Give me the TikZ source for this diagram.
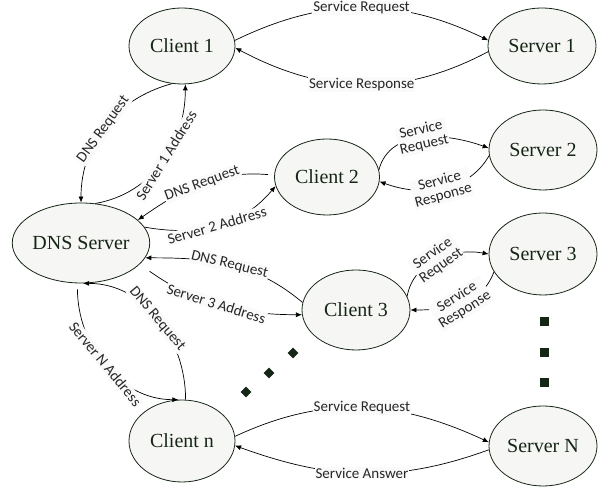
\documentclass[tikz,border=0pt]{standalone}
\usepackage{fontspec}
\setmainfont{Liberation Serif}
\newfontfamily\labfont{Carlito}
\usetikzlibrary{shapes.geometric,arrows.meta}
\definecolor{ink}{HTML}{162616}
\definecolor{efill}{HTML}{F6F6F4}
\definecolor{lfill}{HTML}{FAFAFA}
\begin{document}
\begin{tikzpicture}[x=1pt,y=1pt,
  ent/.style={ellipse, draw=ink, fill=efill, line width=0.8pt, inner sep=0pt,
    font=\fontsize{20}{24}\selectfont, text=ink},
  arr/.style={draw=black, line width=0.7pt, -{Latex[length=6pt,width=5pt]}},
  lab/.style={font=\labfont\fontsize{15}{15}\selectfont, fill=lfill, inner sep=1pt, text=black!85},
  lab2/.style={lab, align=center},
  dia/.style={diamond, fill=ink, inner sep=0pt, minimum size=11pt},
  sq/.style={rectangle, fill=ink, inner sep=0pt, minimum size=8.5pt}]
\useasboundingbox (0,0) rectangle (598,492);

\node[ent, minimum width=106pt, minimum height=76pt] (c1) at (182,446) {Client 1};
\node[ent, minimum width=108pt, minimum height=76pt] (s1) at (542,446) {Server 1};
\node[ent, minimum width=108pt, minimum height=80pt] (s2) at (543,342) {Server 2};
\node[ent, minimum width=105pt, minimum height=76pt] (c2) at (327,315) {Client 2};
\node[ent, minimum width=134pt, minimum height=80pt] (dns) at (81,249) {DNS Server};
\node[ent, minimum width=108pt, minimum height=82pt] (s3) at (543,238) {Server 3};
\node[ent, minimum width=108pt, minimum height=80pt] (c3) at (356,182) {Client 3};
\node[ent, minimum width=106pt, minimum height=82pt] (cn) at (182,51) {Client n};
\node[ent, minimum width=108pt, minimum height=80pt] (sN) at (543,46) {Server N};

% Client 1 <-> Server 1
\draw[arr] (c1.6) to[out=26,in=154] node[lab]{Service Request} (s1.174);
\draw[arr] (s1.186) to[out=208,in=-28] node[lab]{Service Response} (c1.-2);

% Client 1 <-> DNS
\draw[arr] (c1.255) to[out=195,in=90] node[lab,sloped,pos=.52]{DNS Request} (dns.90);
\draw[arr] (dns.70) to[out=10,in=-90] node[lab,sloped,pos=.55]{Server 1 Address} (c1.-85);

% Client 2 <-> DNS
\draw[arr,shorten <=6pt] (c2.178) to[out=175,in=35] node[lab,sloped]{DNS Request} (dns.22);
\draw[arr] (dns.14) to[out=-10,in=230] node[lab,sloped]{Server 2 Address} (c2.190);

% Client 3 <-> DNS
\draw[arr] (c3.172) to[out=140,in=0] node[lab,sloped]{DNS Request} (dns.-13);
\draw[arr,shorten <=12pt] (dns.-20) to[out=-35,in=180] node[lab,sloped]{Server 3 Address} (c3.185);

% Client n <-> DNS
\draw[arr] (cn.85) to[out=90,in=0] node[lab,sloped]{DNS Request} (dns.-87);
\draw[arr,shorten <=6pt] (dns.-95) to[out=-90,in=180] node[lab,sloped]{Server N Address} (cn.95);

% Client 2 <-> Server 2
\draw[arr] (c2.8) to[out=75,in=160] node[lab2,rotate=13]{Service\\Request} (s2.178);
\draw[arr] (s2.186) to[out=240,in=-20] node[lab2,rotate=15]{Service\\Response} (c2.-5);

% Client 3 <-> Server 3
\draw[arr] (c3.15) to[out=80,in=170] node[lab2,rotate=35]{Service\\Request} (s3.180);
\draw[arr] (s3.200) to[out=250,in=0] node[lab2,rotate=32]{Service\\Response} (c3.0);

% Client n <-> Server N
\draw[arr] (cn.5) to[out=25,in=155] node[lab]{Service Request} (sN.176);
\draw[arr] (sN.184) to[out=200,in=-20] node[lab]{Service Answer} (cn.-5);

% ellipsis marks
\node[dia] (d1) at (246,100) {};
\node[dia] (d2) at (269,119) {};
\node[dia] (d3) at (293,139) {};
\node[sq] (q1) at (544.5,170.3) {};
\node[sq] (q2) at (544.5,139.5) {};
\node[sq] (q3) at (544.5,109.5) {};
\end{tikzpicture}
\end{document}
